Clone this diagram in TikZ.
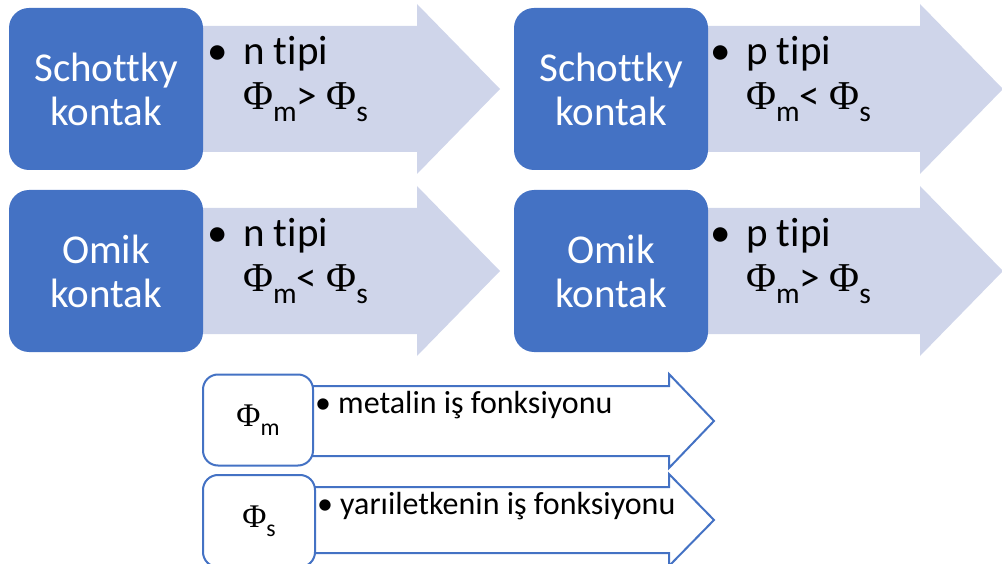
\documentclass[tikz,border=0pt]{standalone}
\usepackage{fontspec}
\setmainfont{Carlito}[Ligatures={NoCommon,NoContextual}]
\newfontfamily\phifont{Liberation Serif}
\definecolor{boxblue}{HTML}{4472C4}
\definecolor{arrowfill}{HTML}{CFD5EA}
% work function symbol with a lowered, smaller index
\newcommand\wf[1]{{\phifont Φ}\raisebox{-0.28em}{\scalebox{0.72}{#1}}}
\tikzset{
  bluebox/.style={fill=boxblue, rounded corners=20pt, minimum width=194pt,
    minimum height=162pt, text=white, align=center,
    font=\fontsize{41}{44}\selectfont, inner sep=0pt},
  bigarrow/.style={fill=arrowfill, draw=none},
  bigtext/.style={anchor=base west, inner sep=0pt, font=\fontsize{41}{44}\selectfont},
  linebox/.style={draw=boxblue, line width=2pt, fill=white, rounded corners=15pt,
    inner sep=0pt, font=\fontsize{33}{35}\selectfont},
  linearrow/.style={draw=boxblue, line width=2pt, fill=white},
  smalltext/.style={anchor=base west, inner sep=0pt, font=\fontsize{32}{34}\selectfont},
}
\begin{document}
\begin{tikzpicture}[x=1pt, y=-1pt]
\useasboundingbox (0,0) rectangle (1002,564);

% large shaded arrows (body, head, tip)
\foreach \dx/\dy in {0/0, 503/0, 0/182, 503/182}{
  \fill[arrowfill] (190+\dx,26+\dy) -- (417+\dx,26+\dy) -- (417+\dx,4+\dy)
    -- (500+\dx,89+\dy) -- (417+\dx,174+\dy) -- (417+\dx,152+\dy)
    -- (190+\dx,152+\dy) -- cycle;
}

% filled contact boxes
\node[bluebox] (sn) at (106,89) {Schottky\\kontak};
\node[bluebox] (sp) at (611,89) {Schottky\\kontak};
\node[bluebox] (on) at (106,271) {Omik\\kontak};
\node[bluebox] (op) at (611,271) {Omik\\kontak};

% bullet texts in the shaded arrows
\node[bigtext] (snb) at (207,65) {•};
\node[bigtext] (sn1) at (243,65) {n tipi};
\node[bigtext] (sn2) at (243,110) {\wf{m}> \wf{s}};
\node[bigtext] (spb) at (710,65) {•};
\node[bigtext] (sp1) at (746,65) {p tipi};
\node[bigtext] (sp2) at (746,110) {\wf{m}< \wf{s}};
\node[bigtext] (onb) at (207,247) {•};
\node[bigtext] (on1) at (243,247) {n tipi};
\node[bigtext] (on2) at (243,292) {\wf{m}< \wf{s}};
\node[bigtext] (opb) at (710,247) {•};
\node[bigtext] (op1) at (746,247) {p tipi};
\node[bigtext] (op2) at (746,292) {\wf{m}> \wf{s}};

% outlined legend arrows
\draw[linearrow] (300,386) -- (669,386) -- (669,374) -- (714,421) -- (669,468)
  -- (669,456) -- (300,456) -- cycle;
\draw[linearrow] (300,487) -- (669,487) -- (669,474) -- (714,520) -- (669,566)
  -- (669,553) -- (300,553) -- cycle;

% legend boxes
\node[linebox, minimum width=110pt, minimum height=91pt] (pm) at (258,420) {\wf{m}};
\node[linebox, minimum width=112pt, minimum height=92pt] (ps) at (259,521) {\wf{s}};

\node[smalltext] (pmb) at (315,413) {•};
\node[smalltext] (pmt) at (338,413) {metalin iş fonksiyonu};
\node[smalltext] (psb) at (317,514) {•};
\node[smalltext] (pst) at (340,514) {yarıiletkenin iş fonksiyonu};
\end{tikzpicture}
\end{document}
